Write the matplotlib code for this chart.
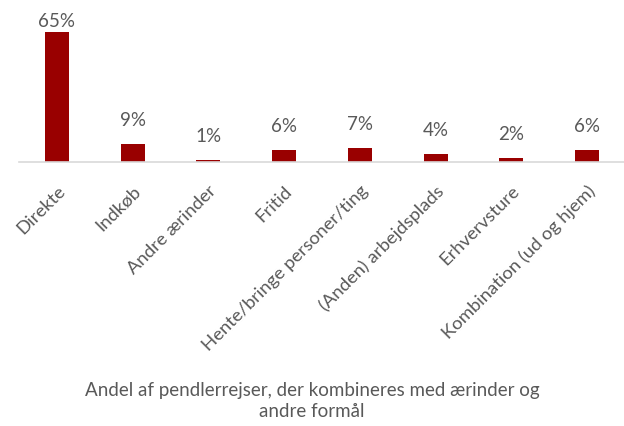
import matplotlib

matplotlib.use("Agg")
import matplotlib.pyplot as plt

categories = [
    "Direkte",
    "Indkøb",
    "Andre ærinder",
    "Fritid",
    "Hente/bringe personer/ting",
    "(Anden) arbejdsplads",
    "Erhvervsture",
    "Kombination (ud og hjem)",
]
shares = [65, 9, 1, 6, 7, 4, 2, 6]

TEXT = "#595959"
BAR = "#990000"

plt.rcParams["font.family"] = ["Lato", "DejaVu Sans"]

fig = plt.figure(figsize=(6.24, 4.26), dpi=100)
ax = fig.add_axes([19 / 624, 264 / 426, 606 / 624, 140 / 426])

x = list(range(len(categories)))
ax.bar(x, shares, width=0.32, color=BAR)
top = max(shares)
for xi, v in zip(x, shares):
    # Excel squeezes the tallest label against the plot top
    off = 1.5 if v == top else 10.5
    ax.annotate(f"{v}%", (xi, v), xytext=(0, off), textcoords="offset points",
                ha="center", va="bottom", fontsize=13.5, color=TEXT, annotation_clip=False)

ax.set_xlim(-0.5, len(categories) - 0.5)
ax.set_ylim(0, 70)
ax.set_yticks([])
for side in ["top", "left", "right"]:
    ax.spines[side].set_visible(False)
ax.spines["bottom"].set_color("#d9d9d9")
ax.spines["bottom"].set_linewidth(1.2)

ax.set_xticks(x)
ax.set_xticklabels(categories, rotation=45, ha="right", rotation_mode="anchor", fontsize=13.3, color=TEXT)
ax.tick_params(axis="x", length=0, pad=15)

fig.text(0.5, 1 - 382 / 426, "Andel af pendlerrejser, der kombineres med ærinder og\nandre formål",
         ha="center", va="top", fontsize=13.5, color=TEXT, linespacing=1.3)

fig.savefig("out.png", dpi=100)
